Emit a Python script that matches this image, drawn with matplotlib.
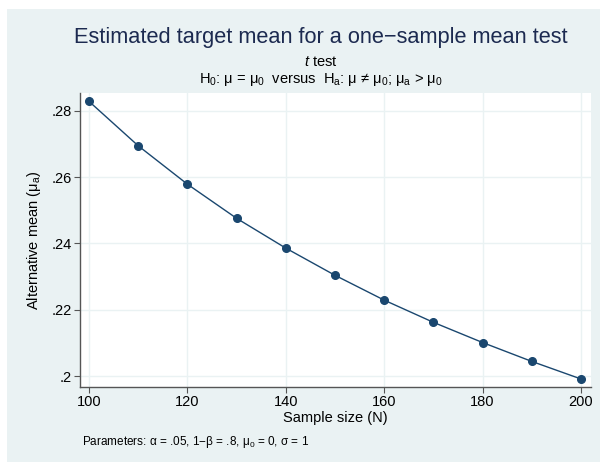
import matplotlib
matplotlib.use("Agg")
import matplotlib.pyplot as plt
from matplotlib.patches import Rectangle

plt.rcParams['font.family'] = ['Liberation Sans', 'DejaVu Sans']
plt.rcParams['mathtext.fontset'] = 'custom'
plt.rcParams['mathtext.rm'] = 'Liberation Sans'
plt.rcParams['mathtext.it'] = 'Liberation Sans:italic'

sample_size = [100, 110, 120, 130, 140, 150, 160, 170, 180, 190, 200]
alt_mean = [0.2829, 0.2695, 0.2579, 0.2476, 0.2386, 0.2304, 0.2229, 0.2162, 0.2101, 0.2044, 0.1991]
x_ticks = [100, 120, 140, 160, 180, 200]
y_ticks = [0.20, 0.22, 0.24, 0.26, 0.28]
y_tick_labels = ['.2', '.22', '.24', '.26', '.28']

BG = '#EAF2F3'
NAVY = '#1A476F'
W, H = 600, 462

fig = plt.figure(figsize=(6, 4.62), dpi=100)
fig.patch.set_facecolor('white')
fig.patches.append(Rectangle((7 / W, 0), 1 - 7 / W, 1 - 9 / H, transform=fig.transFigure,
                             facecolor=BG, edgecolor='none', zorder=-10))

L, R, T, B = 80, 591, 93, 387
ax = fig.add_axes([L / W, 1 - B / H, (R - L) / W, (B - T) / H])
ax.set_facecolor('white')
ax.plot(sample_size, alt_mean, color=NAVY, lw=1.0, marker='o', ms=5.5,
        markerfacecolor=NAVY, markeredgecolor=NAVY, zorder=3)

ax.set_xlim(98.17, 202.03)
ax.set_ylim(0.19668, 0.28543)
ax.set_xticks(x_ticks)
ax.set_yticks(y_ticks)
ax.set_yticklabels(y_tick_labels)
ax.grid(True, color=BG, lw=1.0, zorder=0)
for s in ['top', 'right']:
    ax.spines[s].set_visible(False)
for s in ['left', 'bottom']:
    ax.spines[s].set_color('#555555')
    ax.spines[s].set_linewidth(1.0)
ax.tick_params(axis='both', direction='out', length=4, width=0.8, color='#555555',
               labelsize=10.5, labelcolor='black', pad=2)

ax.set_xlabel('Sample size (N)', fontsize=10.5, labelpad=1)
ax.set_ylabel(r'Alternative mean (μ$_{\mathrm{a}}$)', fontsize=10.5, labelpad=6)

fig.text(321 / W, 1 - 37 / H, 'Estimated target mean for a one\u2212sample mean test',
         ha='center', va='center', fontsize=15.7, color='#1C2A50')
fig.text(321 / W, 1 - 62 / H, r'$\mathit{t}$ test', ha='center', va='center', fontsize=10.5)
fig.text(321 / W, 1 - 80 / H,
         r'H$_0$: μ = μ$_0$  versus  H$_\mathrm{a}$: μ ≠ μ$_0$; μ$_\mathrm{a}$ > μ$_0$',
         ha='center', va='center', fontsize=10.5)
fig.text(82 / W, 1 - 442 / H,
         r'Parameters: α = .05, 1−β = .8, μ$_0$ = 0, σ = 1',
         ha='left', va='center', fontsize=8.5)

fig.savefig('out.png', dpi=100, facecolor=fig.get_facecolor())
